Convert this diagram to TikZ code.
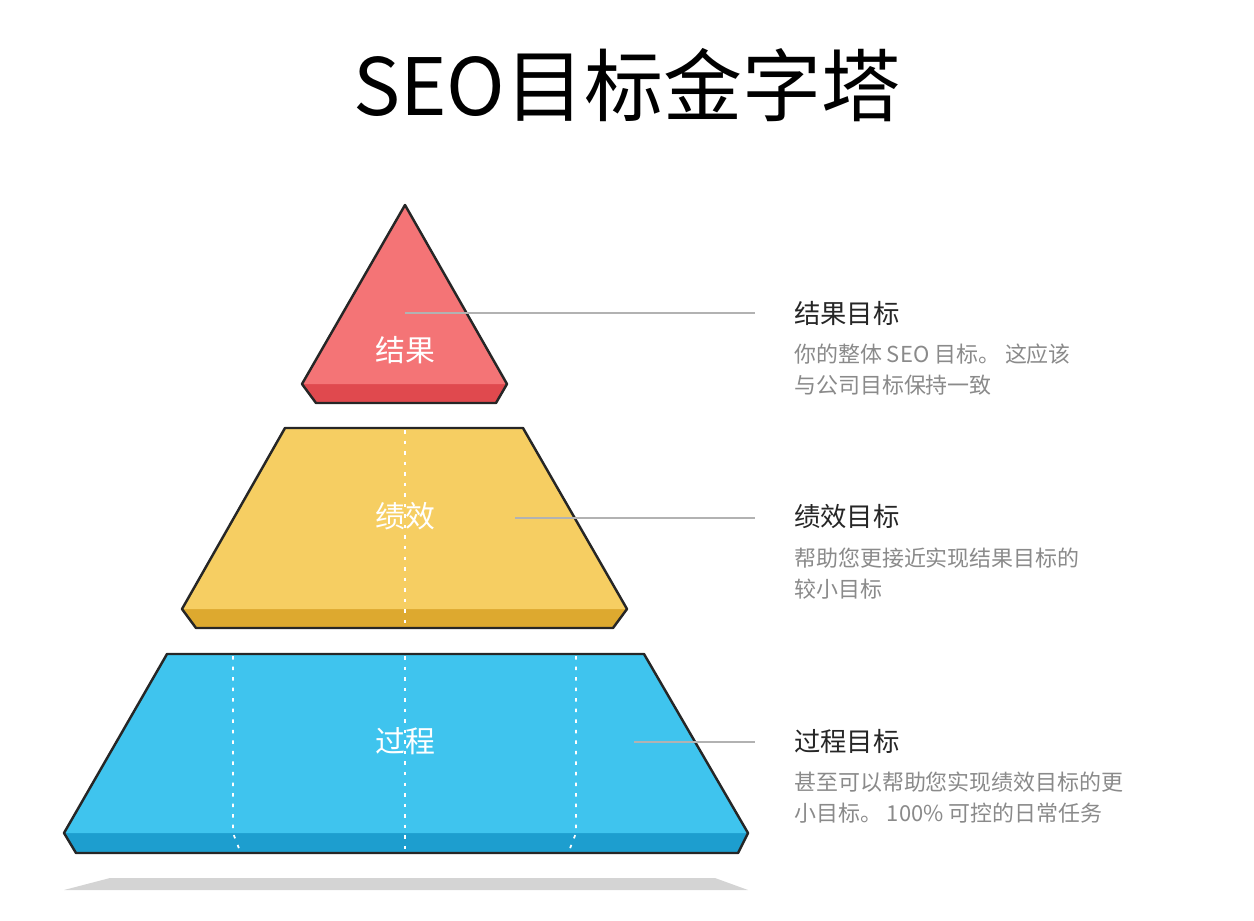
\documentclass[tikz,border=0pt]{standalone}
\usepackage{fontspec}
\setmainfont{Noto Sans CJK SC}
\definecolor{redtop}{HTML}{F47476}
\definecolor{redband}{HTML}{E0494E}
\definecolor{yeltop}{HTML}{F6CE62}
\definecolor{yelband}{HTML}{DDA92F}
\definecolor{bluetop}{HTML}{3FC4EE}
\definecolor{blueband}{HTML}{1D9ECF}
\definecolor{desc}{HTML}{8A8A8A}
\tikzset{
  outline/.style = {draw=black!85,line width=1.4pt,line join=round},
  guide/.style = {draw=white,line width=1pt,dash pattern=on 2pt off 4pt},
  leader/.style = {draw=black!30,line width=0.6pt},
  tier/.style = {text=white,font=\fontsize{17}{20}\selectfont},
  head/.style = {anchor=west,text=black!85,font=\fontsize{15}{18}\selectfont},
  note/.style = {anchor=north west,text=desc,align=left,font=\fontsize{12.5}{17.5}\selectfont}
}
\begin{document}
\begin{tikzpicture}[x=0.02cm,y=-0.02cm]
  \useasboundingbox (0,0) rectangle (1254,920);
  % title
  \node (title) at (627,85) {\fontsize{45}{50}\selectfont SEO目标金字塔};
  % shadow
  \fill[black!17] (110,878) -- (715,878) -- (748,890) -- (64,890) -- cycle;
  % bottom tier
  \fill[blueband] (64,833) -- (748,833) -- (738,853) -- (76,853) -- cycle;
  \fill[bluetop] (167,654) -- (644,654) -- (748,833) -- (64,833) -- cycle;
  \draw[guide] (233,656) -- (233,833) -- (240,851);
  \draw[guide] (576,656) -- (576,833) -- (569,851);
  \draw[guide] (405,656) -- (405,851);
  \draw[outline] (167,654) -- (644,654) -- (748,833) -- (738,853) -- (76,853) -- (64,833) -- cycle;
  % middle tier
  \fill[yelband] (182,609) -- (627,609) -- (613,628) -- (196,628) -- cycle;
  \fill[yeltop] (285,428) -- (523,428) -- (627,609) -- (182,609) -- cycle;
  \draw[guide] (405,430) -- (405,626);
  \draw[outline] (285,428) -- (523,428) -- (627,609) -- (613,628) -- (196,628) -- (182,609) -- cycle;
  % top tier
  \fill[redband] (302,384) -- (507,384) -- (496,403) -- (316,403) -- cycle;
  \fill[redtop] (405,205) -- (507,384) -- (302,384) -- cycle;
  \draw[outline] (405,205) -- (507,384) -- (496,403) -- (316,403) -- (302,384) -- cycle;
  % tier labels
  \node[tier] (result) at (405,350) {结果};
  \node[tier] (perf) at (405,516) {绩效};
  \node[tier] (proc) at (405,741) {过程};
  % anchors of the leaders
  \coordinate (r0) at (405,313);
  \coordinate (p0) at (515,518);
  \coordinate (q0) at (634,742);
  % descriptions
  \node[head] (rhead) at (788,313) {结果目标};
  \node[note] (rnote) at (788,338) {你的整体 SEO 目标。 这应该\\与公司目标保持一致};
  \node[head] (phead) at (788,517) {绩效目标};
  \node[note] (pnote) at (788,542) {帮助您更接近实现结果目标的\\较小目标};
  \node[head] (qhead) at (788,741) {过程目标};
  \node[note] (qnote) at (788,766) {甚至可以帮助您实现绩效目标的更\\小目标。 100\% 可控的日常任务};
  % leaders
  \draw[leader] (r0) -- (755,313);
  \draw[leader] (p0) -- (755,518);
  \draw[leader] (q0) -- (755,742);
\end{tikzpicture}
\end{document}
